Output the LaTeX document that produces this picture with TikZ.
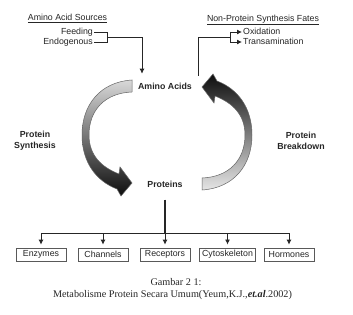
\documentclass[tikz,border=0pt]{standalone}
\usepackage{fontspec}
\setmainfont{Liberation Serif}
\setsansfont{Liberation Sans}
\usetikzlibrary{arrows.meta,calc}
\begin{document}
\begin{tikzpicture}[x=1pt,y=-1pt,
  lbl/.style={font=\sffamily\fontsize{8.8}{10.5}\selectfont, inner sep=1pt, text=black!85},
  blbl/.style={font=\sffamily\bfseries\fontsize{8.8}{11}\selectfont, inner sep=1pt, align=center, text=black!85},
  fatebox/.style={draw=black!65, line width=0.7pt, font=\sffamily\fontsize{8.8}{10}\selectfont, minimum width=50pt, minimum height=13pt, inner sep=2.5pt, text=black!85},
  conn/.style={line width=0.9pt, black!85},
  arr/.style={conn, -{Latex[length=5pt,width=5pt]}},
  ribbon/.style={draw=black!60, line width=0.5pt},
  captxt/.style={font=\fontsize{10.2}{12}\selectfont, inner sep=1pt, text=black!85}
  ]
\useasboundingbox (0,0) rectangle (353,315);
\fill[white] (0,0) rectangle (353,315);

% cycle ribbons
\path[ribbon, top color=black!15, middle color=black!30, bottom color=black!95]
  (132,80) .. controls (100,82) and (82,105) .. (82,135)
  .. controls (82,162) and (96,181) .. (117,189)
  -- (121,196) -- (132,183) -- (120,167) -- (119,174)
  .. controls (101,167) and (89,155) .. (89,135)
  .. controls (89,110) and (105,93) .. (132,92) -- cycle;
\path[ribbon, top color=black!95, middle color=black!30, bottom color=black!10]
  (202,190) .. controls (234,188) and (252,165) .. (252,135)
  .. controls (252,108) and (238,89) .. (217,81)
  -- (213,74) -- (202,87) -- (214,103) -- (215,96)
  .. controls (233,103) and (245,115) .. (245,135)
  .. controls (245,160) and (229,177) .. (202,178) -- cycle;

% labels
\node[lbl, anchor=mid] (src) at (67.5,18) {\underline{Amino Acid Sources}};
\node[lbl, anchor=mid east] (feed) at (94,32) {Feeding};
\node[lbl, anchor=mid east] (endo) at (94,42) {Endogenous};
\node[lbl, anchor=mid] (fates) at (263,19) {\underline{Non-Protein Synthesis Fates}};
\node[lbl, anchor=mid west] (oxid) at (242,32) {Oxidation};
\node[lbl, anchor=mid west] (trans) at (242,42) {Transamination};
\node[blbl, anchor=mid] (aa) at (165,87) {Amino Acids};
\node[blbl, anchor=mid] (prot) at (165,185) {Proteins};
\node[blbl] (ps) at (35,140.5) {Protein\\Synthesis};
\node[blbl] (pb) at (301,140.5) {Protein\\Breakdown};

% boxes
\node[fatebox] (enz) at (41,254.5) {Enzymes};
\node[fatebox] (chan) at (103,254.5) {Channels};
\node[fatebox] (rec) at (165,254.5) {Receptors};
\node[fatebox] (cyto) at (227.5,254.5) {Cytoskeleton};
\node[fatebox] (horm) at (289,254.5) {Hormones};

% source bracket
\coordinate (bk) at (107,37);
\draw[conn] (feed.mid east) -- (feed.mid east -| bk) -- (endo.mid east -| bk) -- (endo.mid east);
\draw[arr, shorten >=8pt] (bk) -| (142,0 |- aa.north);

% fates bracket
\coordinate (fk) at (230,37);
\draw[conn, shorten <=6pt] (198,0 |- aa.north) |- (fk);
\draw[conn] (fk |- oxid.mid west) -- (fk |- trans.mid west);
\draw[arr] (fk |- oxid.mid west) -- (oxid.mid west);
\draw[arr] (fk |- trans.mid west) -- (trans.mid west);

% protein tree
\coordinate (br) at (165,233);
\draw[line width=1.4pt, black!85, shorten <=11pt] (prot.south) -- (prot.south |- br);
\draw[conn] (enz.north |- br) -- (horm.north |- br);
\foreach \b in {enz,chan,rec,cyto,horm}
  \draw[arr, shorten >=3pt] (\b.north |- br) -- (\b.north);

% caption
\node[captxt, anchor=mid] (cap1) at (176,283) {Gambar 2 1:};
\node[captxt, anchor=mid] (cap2) at (172.5,295) {Metabolisme Protein Secara Umum(Yeum,K.J.,\textbf{\textit{et.al}}.2002)};
\end{tikzpicture}
\end{document}
